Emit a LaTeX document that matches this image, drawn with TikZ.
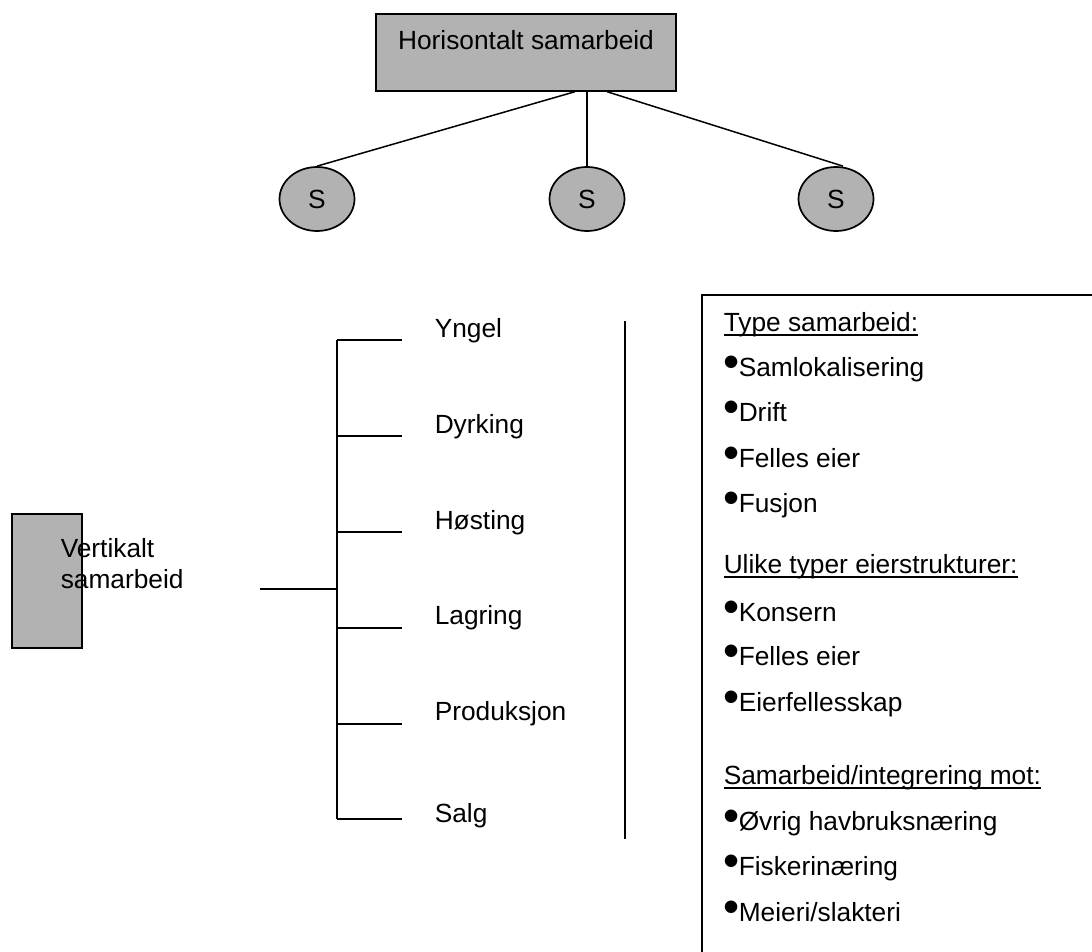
\documentclass[tikz,border=0pt]{standalone}
\usepackage{fontspec}
\setmainfont{Liberation Sans}
\usetikzlibrary{shapes.geometric}
\definecolor{boxgray}{gray}{0.7}
% underline set close to the baseline, crossing descenders
\newcommand\undl[1]{\setbox0\hbox{#1}\rlap{\rule[-4.5pt]{\wd0}{1.3pt}}\box0}
% raised list bullet
\newcommand\bul{\makebox[15pt][l]{\hspace{-0.5pt}\raisebox{-1.5pt}{\fontsize{46}{46}\selectfont •}}}

\begin{document}
\begin{tikzpicture}[x=1pt,y=-1pt,line width=1.5pt,
  every node/.style={font=\fontsize{26.3}{31}\selectfont,inner sep=0pt},
  graybox/.style={draw,fill=boxgray,line width=1.7pt},
  sbubble/.style={ellipse,draw,fill=boxgray,line width=1.7pt,minimum width=75pt,minimum height=64pt},
  lbl/.style={anchor=base west}]
\useasboundingbox (0,0) rectangle (1092,952);

% horizontal cooperation
\node[graybox,anchor=north,minimum width=300pt,text height=36pt,text depth=41pt] (hor) at (526,13) {Horisontalt samarbeid};
\node[sbubble] (s1) at (317,199) {S};
\node[sbubble] (s2) at (587,199) {S};
\node[sbubble] (s3) at (836,199) {S};
\draw ([xshift=49pt]hor.south) -- (s1.north);
\draw (s2.north |- hor.south) -- (s2.north);
\draw ([xshift=81pt]hor.south) -- ([xshift=7pt]s3.north);

% vertical cooperation
\node[graybox,anchor=north west,minimum width=70pt,minimum height=134pt] (vbox) at (11,513) {};
\node[anchor=base west] (vtxt) at (60,557) {\vtop{\hbox{Vertikalt}\hbox{samarbeid}}};

% value chain bracket
\coordinate (b1) at (337,340);
\coordinate (b2) at (337,436);
\coordinate (b3) at (337,532);
\coordinate (b4) at (337,628);
\coordinate (b5) at (337,724);
\coordinate (b6) at (337,819);
\coordinate (h0) at (260,589);
\draw (b1) -- (b6);
\draw (h0) -- (h0 -| b1);
\foreach \b in {b1,b2,b3,b4,b5,b6} \draw (\b) -- ++(65,0);
\node[lbl] (l1) at (434,337) {Yngel};
\node[lbl] (l2) at (434,433) {Dyrking};
\node[lbl] (l3) at (434,529) {Høsting};
\node[lbl] (l4) at (434,624) {Lagring};
\node[lbl] (l5) at (434,720) {Produksjon};
\node[lbl] (l6) at (434,822) {Salg};

% separator
\coordinate (d1) at (625,321);
\coordinate (d2) at (625,839);
\draw (d1) -- (d2);

% list of cooperation forms
\draw[line width=1.7pt] (702,1000) |- (1100,295);
\node[lbl] (k1) at (723,331) {\undl{Type samarbeid:}};
\node[lbl] (i1) at (723,376) {\bul Samlokalisering};
\node[lbl] (i2) at (723,421) {\bul Drift};
\node[lbl] (i3) at (723,467) {\bul Felles eier};
\node[lbl] (i4) at (723,512) {\bul Fusjon};
\node[lbl] (k2) at (723,573) {\undl{Ulike typer eierstrukturer:}};
\node[lbl] (i5) at (723,621) {\bul Konsern};
\node[lbl] (i6) at (723,665) {\bul Felles eier};
\node[lbl] (i7) at (723,711) {\bul Eierfellesskap};
\node[lbl] (k3) at (723,784) {\undl{Samarbeid/integrering mot:}};
\node[lbl] (i8) at (723,830) {\bul Øvrig havbruksnæring};
\node[lbl] (i9) at (723,875) {\bul Fiskerinæring};
\node[lbl] (i10) at (723,921) {\bul Meieri/slakteri};
\end{tikzpicture}
\end{document}
